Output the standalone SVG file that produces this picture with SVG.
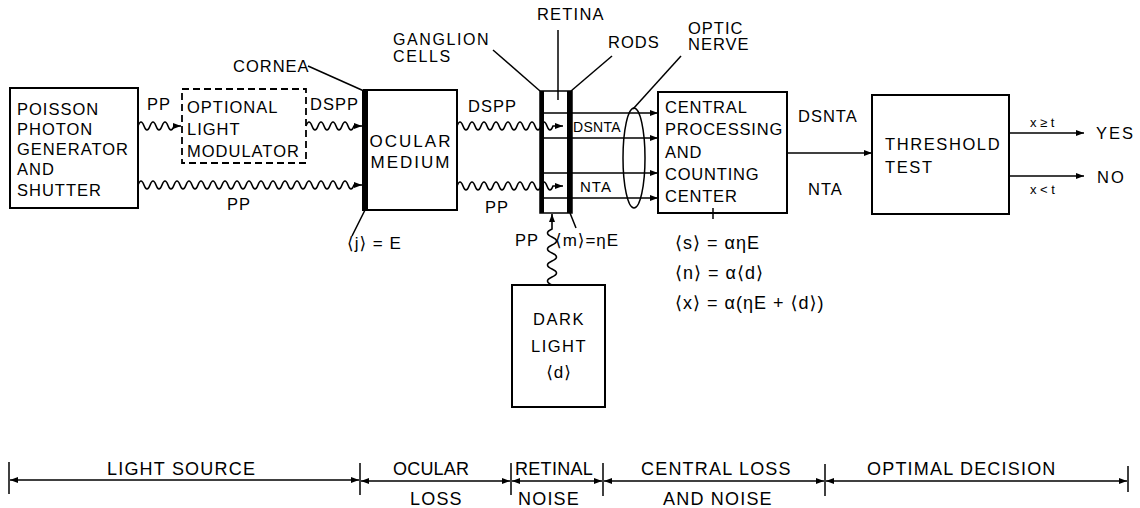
<svg xmlns="http://www.w3.org/2000/svg" width="1140" height="508" viewBox="0 0 1140 508">
<style>
.t{font-family:"Liberation Sans","DejaVu Sans",sans-serif;font-size:16.5px;letter-spacing:1px;fill:#000}
.m{font-family:"Liberation Sans","DejaVu Sans",sans-serif;font-size:17px;letter-spacing:1px;fill:#000}
.s{font-size:14px;letter-spacing:0.3px}
.xs{font-family:"Liberation Sans","DejaVu Sans",sans-serif;font-size:13px;fill:#000}
.b{font-size:18px;letter-spacing:1.2px}
.box{fill:#fff;stroke:#000;stroke-width:2}
.ln{stroke:#000;stroke-width:1.5;fill:none}
.ar{stroke:#000;stroke-width:1.6;fill:none;marker-end:url(#ah)}
.dbl{stroke:#000;stroke-width:1.6;fill:none;marker-start:url(#ah2);marker-end:url(#ah2)}
</style>
<defs>
<marker id="ah" viewBox="0 0 8 6" refX="8" refY="3" markerWidth="8" markerHeight="6" markerUnits="userSpaceOnUse" orient="auto"><path d="M0,0 L8,3 L0,6 z" fill="#000"/></marker>
<marker id="ah2" viewBox="0 0 8 6" refX="8" refY="3" markerWidth="8" markerHeight="6" markerUnits="userSpaceOnUse" orient="auto-start-reverse"><path d="M0,0 L8,3 L0,6 z" fill="#000"/></marker>
</defs>
<rect width="1140" height="508" fill="#fff"/>

<g id="poisson">
<rect class="box" x="10" y="88" width="128" height="120"/>
<text class="t" x="17" y="115">POISSON</text>
<text class="t" x="17" y="135">PHOTON</text>
<text class="t" x="17" y="155">GENERATOR</text>
<text class="t" x="17" y="175">AND</text>
<text class="t" x="17" y="196">SHUTTER</text>
</g>

<g id="modulator">
<rect x="182" y="89" width="124" height="74" fill="none" stroke="#000" stroke-width="1.8" stroke-dasharray="7,4"/>
<text class="t" x="187" y="113">OPTIONAL</text>
<text class="t" x="187" y="135">LIGHT</text>
<text class="t" x="187" y="157">MODULATOR</text>
</g>

<g id="ocular">
<rect class="box" x="364" y="90" width="93" height="120"/>
<rect x="362" y="90" width="6" height="121" fill="#000"/>
<text class="t" x="411" y="147" text-anchor="middle" style="font-size:17px;letter-spacing:2px">OCULAR</text>
<text class="t" x="411" y="168" text-anchor="middle" style="font-size:17px;letter-spacing:2px">MEDIUM</text>
</g>

<g id="retina">
<rect x="540" y="91" width="32" height="122" fill="#fff" stroke="#000" stroke-width="1.5"/>
<rect x="540" y="91" width="4" height="122" fill="#000"/>
<rect x="567" y="91" width="5" height="122" fill="#000"/>
</g>

<g id="central">
<rect class="box" x="658" y="92" width="129" height="121"/>
<text class="t" x="665" y="113" style="letter-spacing:0.8px">CENTRAL</text>
<text class="t" x="665" y="135" style="letter-spacing:0.8px">PROCESSING</text>
<text class="t" x="665" y="158" style="letter-spacing:0.8px">AND</text>
<text class="t" x="665" y="180" style="letter-spacing:0.8px">COUNTING</text>
<text class="t" x="665" y="202" style="letter-spacing:0.8px">CENTER</text>
</g>

<g id="threshold">
<rect class="box" x="872" y="95" width="137" height="119"/>
<text class="t" x="885" y="150" style="letter-spacing:1.6px">THRESHOLD</text>
<text class="t" x="885" y="173" style="letter-spacing:1.6px">TEST</text>
</g>

<g id="darklight">
<rect class="box" x="512" y="285" width="93" height="122"/>
<text class="t" x="559" y="325" text-anchor="middle" style="letter-spacing:1.5px">DARK</text>
<text class="t" x="559" y="352" text-anchor="middle" style="letter-spacing:1.5px">LIGHT</text>
<text class="m" x="559" y="378" text-anchor="middle">⟨d⟩</text>
</g>

<g id="connectors">
<!-- photon waves -->
<path class="ar" d="M138,126 q3,-8 6,0 t6,0 t6,0 t6,0 t6,0 t6,0 L181,126"/>
<path class="ar" d="M306,126 q3,-8 6,0 t6,0 t6,0 t6,0 t6,0 t6,0 t6,0 t6,0 L362,126"/>
<path class="ar" d="M138,185 q3,-8 6,0 t6,0 t6,0 t6,0 t6,0 t6,0 t6,0 t6,0 t6,0 t6,0 t6,0 t6,0 t6,0 t6,0 t6,0 t6,0 t6,0 t6,0 t6,0 t6,0 t6,0 t6,0 t6,0 t6,0 t6,0 t6,0 t6,0 t6,0 t6,0 t6,0 t6,0 t6,0 t6,0 t6,0 t6,0 t6,0 L362,185"/>
<path class="ar" d="M457,126 q3,-8 6,0 t6,0 t6,0 t6,0 t6,0 t6,0 t6,0 t6,0 t6,0 t6,0 t6,0 t6,0 t6,0 t6,0 t6,0 t6,0 L563,126"/>
<path class="ar" d="M457,186 q3,-8 6,0 t6,0 t6,0 t6,0 t6,0 t6,0 t6,0 t6,0 t6,0 t6,0 t6,0 t6,0 t6,0 t6,0 t6,0 t6,0 L563,186"/>
<path class="ar" d="M552,285 q-9,-4 0,-8 t0,-8 t0,-8 t0,-8 t0,-8 t0,-8 t0,-8 L552,214"/>
<!-- nerve fibers -->
<path class="ar" d="M544,113 L658,113"/>
<path class="ar" d="M544,138 L658,138"/>
<path class="ar" d="M544,173 L658,173"/>
<path class="ar" d="M544,198 L658,198"/>
<ellipse cx="634" cy="158" rx="11" ry="50" class="ln"/>
<!-- outputs -->
<path class="ar" d="M787,153 L872,153"/>
<path class="ar" d="M1009,133 L1084,133"/>
<path class="ar" d="M1009,176 L1084,176"/>
<line class="ln" x1="713" y1="208" x2="713" y2="219"/>
<!-- leaders -->
<line class="ln" x1="308" y1="66" x2="364" y2="91"/>
<line class="ln" x1="365" y1="210" x2="352" y2="236"/>
<line class="ln" x1="493" y1="50" x2="540" y2="91"/>
<line class="ln" x1="558" y1="30" x2="558" y2="100"/>
<line class="ln" x1="612" y1="56" x2="571" y2="91"/>
<line class="ln" x1="681" y1="56" x2="633" y2="109"/>
<line class="ln" x1="570" y1="213" x2="576" y2="228"/>
<!-- bottom scale -->
<line class="ln" x1="9" y1="462" x2="9" y2="494"/>
<line class="ln" x1="360" y1="463" x2="360" y2="495"/>
<line class="ln" x1="511" y1="463" x2="511" y2="495"/>
<line class="ln" x1="603" y1="463" x2="603" y2="496"/>
<line class="ln" x1="825" y1="464" x2="825" y2="496"/>
<line class="ln" x1="1128" y1="466" x2="1128" y2="492"/>
<path class="dbl" d="M10,480 L359,480"/>
<path class="dbl" d="M361,481 L510,481"/>
<path class="dbl" d="M512,481 L602,481"/>
<path class="dbl" d="M604,481 L824,481"/>
<path class="dbl" d="M826,481 L1127,481"/>
</g>

<g id="labels">
<text class="t" x="147" y="110">PP</text>
<text class="t" x="310" y="110">DSPP</text>
<text class="t" x="227" y="210">PP</text>
<text class="t" x="233" y="72">CORNEA</text>
<text class="m" x="347" y="249">⟨j⟩ = E</text>
<text class="t" x="468" y="112">DSPP</text>
<text class="t" x="485" y="213">PP</text>
<text class="t" x="393" y="45" style="font-size:16px;letter-spacing:1.6px">GANGLION</text>
<text class="t" x="393" y="62" style="font-size:16px;letter-spacing:1.6px">CELLS</text>
<text class="t" x="537" y="20" style="letter-spacing:1.2px">RETINA</text>
<text class="t" x="608" y="48">RODS</text>
<text class="t" x="688" y="34">OPTIC</text>
<text class="t" x="688" y="50">NERVE</text>
<text class="t s" x="573" y="132">DSNTA</text>
<text class="t" x="580" y="192" style="font-size:15px">NTA</text>
<text class="t" x="515" y="246">PP</text>
<text class="m" x="555" y="246">⟨m⟩=ηE</text>
<text class="t" x="798" y="122">DSNTA</text>
<text class="t" x="808" y="195">NTA</text>
<text class="xs" x="1030" y="127">x ≥ t</text>
<text class="xs" x="1030" y="194">x &lt; t</text>
<text class="t" x="1096" y="139" style="letter-spacing:2px">YES</text>
<text class="t" x="1097" y="183" style="letter-spacing:2px">NO</text>
<text class="m" x="675" y="249" style="font-size:18px">⟨s⟩ = αηE</text>
<text class="m" x="675" y="279" style="font-size:18px">⟨n⟩ = α⟨d⟩</text>
<text class="m" x="675" y="309" style="font-size:18px">⟨x⟩ = α(ηE + ⟨d⟩)</text>
<text class="t b" x="107" y="475">LIGHT SOURCE</text>
<text class="t b" x="393" y="475" style="letter-spacing:0.2px">OCULAR</text>
<text class="t b" x="410" y="505">LOSS</text>
<text class="t b" x="515" y="475" style="letter-spacing:0.3px">RETINAL</text>
<text class="t b" x="518" y="505">NOISE</text>
<text class="t b" x="641" y="475">CENTRAL LOSS</text>
<text class="t b" x="663" y="505">AND NOISE</text>
<text class="t b" x="867" y="475">OPTIMAL DECISION</text>
</g>
</svg>
